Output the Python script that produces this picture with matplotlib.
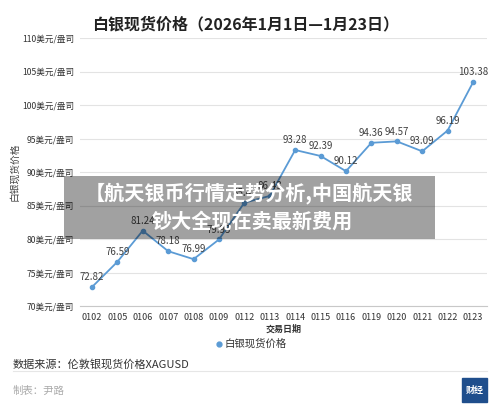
import numpy as np
import matplotlib
matplotlib.use('Agg')
import matplotlib.pyplot as plt
from matplotlib.patches import Rectangle

plt.rcParams['font.family'] = ['Noto Sans CJK SC', 'DejaVu Sans']

# data
dates = ['0102', '0105', '0106', '0107', '0108', '0109', '0112', '0113',
         '0114', '0115', '0116', '0119', '0120', '0121', '0122', '0123']
prices = [72.82, 76.59, 81.24, 78.18, 76.99, 79.93, 85.42, 86.43,
          93.28, 92.39, 90.12, 94.36, 94.57, 93.09, 96.19, 103.38]
yticks = [70, 75, 80, 85, 90, 95, 100, 105, 110]

W, H = 500, 416
fig = plt.figure(figsize=(W / 100, H / 100), dpi=100)
ax = fig.add_axes([80 / W, 1 - 306 / H, 407 / W, 268 / H])

x = np.arange(len(dates))
line_c = '#5b9bd5'
ax.plot(x, prices, color=line_c, lw=1.3, marker='o', ms=3, zorder=3)

for i, v in enumerate(prices):
    ax.annotate(f'{v:.2f}', (i, v), xytext=(0, 3.5), textcoords='offset points',
                ha='center', va='bottom', fontsize=7, color='#404040')

ax.set_xlim(-0.47, 15.55)
ax.set_ylim(70, 110)
ax.set_yticks(yticks)
ax.set_yticklabels([f'{t}美元/盎司' for t in yticks], fontsize=6.2,
                   color='#333333')
ax.set_xticks(x)
ax.set_xticklabels(dates, fontsize=6.5, color='#333333')
ax.tick_params(axis='y', length=0, pad=4)
ax.tick_params(axis='x', length=0, pad=5)
ax.grid(axis='y', color='#e3e3e3', lw=0.8)
ax.set_axisbelow(True)
for s in ['top', 'right', 'left']:
    ax.spines[s].set_visible(False)
ax.spines['bottom'].set_color('#c8c8c8')
ax.set_ylabel('白银现货价格', fontsize=7, color='#404040', labelpad=2)
ax.set_xlabel('交易日期', fontsize=6.5, color='#333333', fontweight='bold', labelpad=2)

fig.text(246 / W, 1 - 24 / H, '白银现货价格（2026年1月1日—1月23日）',
         ha='center', va='center', fontsize=11.5, fontweight='bold', color='#222222')

# legend
fig.lines.append(plt.Line2D([219 / W], [1 - 344 / H], marker='o', ms=3.5,
                            color=line_c, transform=fig.transFigure))
fig.text(225 / W, 1 - 344 / H, '白银现货价格', ha='left', va='center',
         fontsize=7.5, color='#333333')

fig.text(13 / W, 1 - 364 / H, '数据来源：伦敦银现货价格XAGUSD', ha='left',
         va='center', fontsize=8, color='#333333')
fig.lines.append(plt.Line2D([13 / W, 487 / W], [1 - 371 / H, 1 - 371 / H],
                            color='#e6e6e6', lw=0.8, transform=fig.transFigure))
fig.text(13 / W, 1 - 391 / H, '制表：尹路', ha='left', va='center',
         fontsize=7.5, color='#aaaaaa')

# logo
fig.patches.append(Rectangle((462 / W, 1 - 402 / H), 25 / W, 24 / H,
                             color='#1f4e8c', transform=fig.transFigure))
fig.text(474.5 / W, 1 - 390 / H, '财经', ha='center', va='center',
         fontsize=6.5, color='white', fontweight='bold')

# banner overlay
fig.patches.append(Rectangle((64 / W, 1 - 239 / H), 371 / W, 63 / H,
                             facecolor='black', alpha=0.37, lw=0,
                             transform=fig.transFigure, zorder=10))
fig.text(249 / W, 1 - 193 / H, '【航天银币行情走势分析,中国航天银', ha='center',
         va='center', fontsize=14.5, fontweight='bold', color='white', zorder=11)
fig.text(252 / W, 1 - 221 / H, '钞大全现在卖最新费用', ha='center',
         va='center', fontsize=14.5, fontweight='bold', color='white', zorder=11)

fig.savefig('out.png', dpi=100)
